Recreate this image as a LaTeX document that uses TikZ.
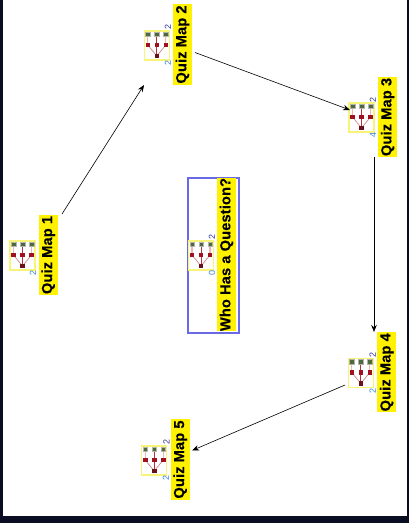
\documentclass[tikz,border=0pt]{standalone}
\usepackage{fontspec}
\setmainfont{Liberation Sans}
\newfontfamily\labelfont[LetterSpace=1,FakeBold=0.3]{Liberation Sans Bold}
\definecolor{bgdark}{HTML}{0A0D22}
\definecolor{iconyellow}{HTML}{F8F478}
\definecolor{leafgreen}{HTML}{4F6A3A}
\definecolor{midred}{HTML}{A01020}
\definecolor{rootred}{HTML}{6A1018}
\definecolor{linkpink}{HTML}{EDB4B4}
\definecolor{linkdark}{HTML}{B83040}
\definecolor{numnavy}{HTML}{3A3AA0}
\definecolor{numblue}{HTML}{3A88E0}
\definecolor{framblue}{HTML}{6A6AE4}
\usetikzlibrary{arrows.meta}
\tikzset{
  x=1pt,y=-1pt,
  maplabel/.style={rotate=90,fill=yellow,inner sep=0pt,font=\fontsize{14.6}{16}\labelfont,text=black,anchor=center,minimum height=18.5pt},
  numtop/.style={rotate=90,inner sep=0pt,font=\fontsize{9}{10}\selectfont,text=numnavy},
  numbot/.style={rotate=90,inner sep=0pt,font=\fontsize{9}{10}\selectfont,text=numblue},
  iconbox/.style={draw=iconyellow,line width=1.25pt,fill=white},
  leaf/.style={fill=leafgreen,draw=gray!60,line width=.4pt},
  mid/.style={fill=midred},
  root/.style={fill=rootred},
  linkl/.style={draw=linkpink,line width=1.2pt},
  linkd/.style={draw=linkdark,line width=.8pt},
  linkr/.style={draw=linkpink!75!rootred,line width=.7pt},
  group/.style={inner sep=0pt,outer sep=0pt,minimum width=#1},
  conn/.style={draw=black,line width=.6pt,-{Stealth[length=7pt,width=5.5pt]}},
}
% #1 left, #2 top of the icon box
\newcommand{\quizicon}[2]{%
  \begin{scope}[shift={(#1,#2)}]
    \draw[iconbox] (0,0) rectangle (25,29);
    \draw[linkl] (3.5,3) -- (3.5,14);
    \draw[linkd] (12.5,3) -- (12.5,14);
    \draw[linkl] (21.5,3) -- (21.5,14);
    \draw[linkr] (12.5,25) -- (3.5,14);
    \draw[linkd] (12.5,25) -- (12.5,14);
    \draw[linkr] (12.5,25) -- (21.5,14);
    \foreach \gx in {3.5,12.5,21.5} {
      \filldraw[leaf] (\gx-2.2,1) rectangle (\gx+2.2,5.4);
      \fill[mid] (\gx-2.3,11.7) rectangle (\gx+2.3,16.3);
    }
    \fill[root] (10.2,22.7) rectangle (14.8,27.3);
  \end{scope}}
\begin{document}
\begin{tikzpicture}
\useasboundingbox (0,0) rectangle (409,523);
\fill[bgdark] (0,0) rectangle (409,523);
\fill[white] (3,0) rectangle (406.5,515.7);

% frame of the central item
\node[draw=framblue,line width=1.15pt,inner sep=0pt,minimum width=51pt,minimum height=155pt] (whoframe) at (213.5,255.5) {};

% Quiz Map 1
\node[group=47pt,minimum height=80pt] (q1) at (33.5,255) {};
\quizicon{10}{241}
\node[maplabel,minimum width=80pt] (q1label) at (48.3,255) {Quiz Map 1};
\node[numbot] (q1n) at (33,273) {2};

% Quiz Map 2
\node[group=48pt,minimum height=81pt] (q2) at (168,44.5) {};
\quizicon{144.3}{31}
\node[maplabel,minimum width=81pt] (q2label) at (182.5,44.5) {Quiz Map 2};
\node[numtop] (q2na) at (168,27) {2};
\node[numbot] (q2nb) at (168,62.5) {2};

% Quiz Map 3
\node[group=48pt,minimum height=80pt] (q3) at (373,117) {};
\quizicon{349}{103}
\node[maplabel,minimum width=80pt] (q3label) at (387.6,117) {Quiz Map 3};
\node[numtop] (q3na) at (373,100) {2};
\node[numbot] (q3nb) at (373,135) {4};

% Who Has a Question?
\quizicon{188.5}{241}
\node[maplabel,minimum width=153pt] (wholabel) at (226.5,254.5) {Who Has a Question?};
\node[numtop] (whona) at (212,237) {2};
\node[numbot] (whonb) at (212,273) {0};

% Quiz Map 4
\node[group=48pt,minimum height=80pt] (q4) at (373,372) {};
\quizicon{348.3}{358.5}
\node[maplabel,minimum width=80pt] (q4label) at (386.7,372.3) {Quiz Map 4};
\node[numtop] (q4na) at (372.7,355) {2};
\node[numbot] (q4nb) at (372.7,390.5) {2};

% Quiz Map 5
\node[group=48pt,minimum height=81pt] (q5) at (165,459.5) {};
\quizicon{141.7}{446}
\node[maplabel,minimum width=81pt] (q5label) at (180.3,459.5) {Quiz Map 5};
\node[numtop] (q5na) at (166.5,442) {2};
\node[numbot] (q5nb) at (166,478) {2};

% connectors
\draw[conn] ([shift={(5,-1)}]q1.north east) -- (q2.south west);
\draw[conn] ([shift={(3,8)}]q2.east) -- ([shift={(1,-7)}]q3.west);
\draw[conn] ([xshift=1pt]q3.south) -- ([xshift=1pt]q4.north);
\draw[conn] ([shift={(-4,13)}]q4.west) -- ([shift={(3,-9)}]q5.east);
\end{tikzpicture}
\end{document}
